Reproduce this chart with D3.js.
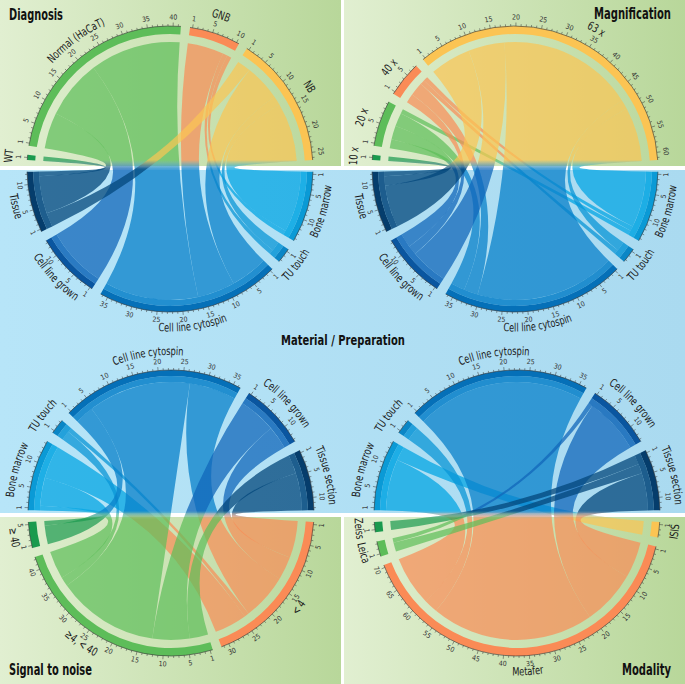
<!DOCTYPE html>
<html>
<head>
<meta charset="utf-8">
<script src="https://cdn.jsdelivr.net/npm/d3@7"></script>
<style>
html, body { margin: 0; padding: 0; background: #fff; }
svg { display: block; font-family: "DejaVu Sans Condensed", "DejaVu Sans", sans-serif; font-stretch: condensed; }
</style>
</head>
<body>
<svg id="chart" width="685" height="684"></svg>
<script>
// groups, clockwise order on each half
const materials = ["Bone marrow", "TU touch", "Cell line cytospin", "Cell line grown", "Tissue"];
const materialsLower = ["Bone marrow", "TU touch", "Cell line cytospin", "Cell line grown", "Tissue section"];
const diagnosis = ["WT", "Normal (HaCaT)", "GNB", "NB"];
const magnification = ["10 x", "20 x", "40 x", "63 x"];
const signalNoise = ["< 4", "≥4, < 40", "≥ 40"];
const modality = ["ISIS", "Metafer", "Leica", "Zeiss"];

// sample counts: rows = category, columns = materials (same order as above)
const diagnosisLinks = [
    [0, 0, 0, 0, 1],
    [0, 0, 20, 13, 8],
    [1, 1, 8, 0, 0],
    [13, 2, 8, 0, 3]
];
const magnificationLinks = [
    [0, 0, 0, 0, 1],
    [1, 0, 3, 3, 2],
    [1, 1, 3, 2, 0],
    [12, 2, 30, 8, 9]
];
const signalLinks = [
    [7, 1, 10, 5, 8],
    [6, 2, 22, 8, 4],
    [1, 0, 4, 0, 0]
];
const modalityLinks = [
    [3, 0, 0, 0, 0],
    [11, 3, 36, 12, 8],
    [0, 0, 0, 1, 2],
    [0, 0, 0, 0, 2]
];

const tickLabels = [1, 5, 10, 15, 20, 25, 30, 35, 40, 45, 50, 55, 60, 65, 70];

const catPalette = ["#1a9a4e", "#5dbd59", "#fa8b56", "#fbc453"];
const matBase = ["#04a6e3", "#0995d6", "#0880c9", "#1267b9", "#03477b"];
const matDark = ["#0a9ad6", "#0a86c6", "#0570b8", "#0a56a0", "#053d6c"];

const R = 143;
const deg = Math.PI / 180;
const pt = (a, r) => [r * Math.sin(a * deg), -r * Math.cos(a * deg)];

const svg = d3.select("#chart");
const defs = svg.append("defs");

function hGrad(id, c0, c1) {
    const g = defs.append("linearGradient").attr("id", id)
        .attr("x1", 0).attr("x2", 1).attr("y1", 0).attr("y2", 0);
    g.append("stop").attr("offset", 0).attr("stop-color", c0);
    g.append("stop").attr("offset", 1).attr("stop-color", c1);
}
hGrad("bgGreen", "#e1efd1", "#b8d79a");
hGrad("bgBlue", "#b7e5f8", "#aadaf0");

// backgrounds
svg.append("rect").attr("x", 0).attr("y", 170).attr("width", 685).attr("height", 343).attr("fill", "url(#bgBlue)");
[[0, 0, 341, 166], [344, 0, 341, 166], [0, 517, 341, 167], [344, 517, 341, 167]].forEach(r => {
    svg.append("rect").attr("x", r[0]).attr("y", r[1]).attr("width", r[2]).attr("height", r[3])
        .attr("fill", "url(#bgGreen)");
});

function transpose(m) {
    return m[0].map((_, j) => m.map(row => row[j]));
}

// squeeze a text to look like a condensed face
function condense(sel, ratio) {
    sel.each(function () {
        const w = this.getComputedTextLength();
        d3.select(this).attr("textLength", w * ratio).attr("lengthAdjust", "spacingAndGlyphs");
    });
}

const panels = [
    { cx: 170, cy: 169, fade: [-9, 0], nudge: { "Normal (HaCaT)": 2 },
      top: { names: diagnosis, colors: [0, 1, 2, 3].map(i => catPalette[i]), cat: true },
      bottom: { names: materials, cat: false },
      links: diagnosisLinks },
    { cx: 515, cy: 169, fade: [-9, 0], nudge: { "63 x": 7 },
      top: { names: magnification, colors: [0, 1, 2, 3].map(i => catPalette[i]), cat: true },
      bottom: { names: materials, cat: false },
      links: magnificationLinks },
    { cx: 171, cy: 513, fade: [-2, 6], nudge: { "≥4, < 40": 7 },
      top: { names: materialsLower, cat: false },
      bottom: { names: signalNoise, colors: [2, 1, 0].map(i => catPalette[i]), cat: true },
      links: transpose(signalLinks) },
    { cx: 517, cy: 513, fade: [-2, 6], nudge: {},
      top: { names: materialsLower, cat: false },
      bottom: { names: modality, colors: [3, 2, 1, 0].map(i => catPalette[i]), cat: true },
      links: transpose(modalityLinks) }
];

function layoutHalf(half, sizes, from, to) {
    const gap = half.cat ? 3.7 : 4;
    const e = half.cat ? 3.6 : 1.1;
    const a0 = from + e, a1 = to - e;
    const unit = (a1 - a0 - gap * (sizes.length - 1)) / d3.sum(sizes);
    let a = a0;
    return half.names.map((name, i) => {
        const g = { name, index: i, size: sizes[i], start: a, end: a + sizes[i] * unit, unit,
            color: half.cat ? half.colors[i] : matBase[i],
            dark: half.cat ? half.colors[i] : matDark[i], cat: half.cat };
        a = g.end + gap;
        return g;
    });
}

const ribbon = d3.ribbon();

panels.forEach((p, pi) => {
    const nt = p.links.length, nb = p.links[0].length;
    const topSizes = p.links.map(r => d3.sum(r));
    const botSizes = d3.range(nb).map(j => d3.sum(p.links, r => r[j]));
    const topG = layoutHalf(p.top, topSizes, -90, 90);
    const botG = layoutHalf(p.bottom, botSizes, 90, 270);
    const rTop = p.top.cat ? R - 16 : R - 12;
    const rBot = p.bottom.cat ? R - 16 : R - 12;

    // link end positions
    const ribbons = [];
    topG.forEach((g, i) => {
        let off = g.start;
        for (let j = nb - 1; j >= 0; j--) {
            const v = p.links[i][j];
            if (!v) continue;
            ribbons.push({ i, j, v, s0: off, s1: off + v * g.unit });
            off += v * g.unit;
        }
    });
    botG.forEach((g, j) => {
        let off = g.start;
        for (let i = nt - 1; i >= 0; i--) {
            const v = p.links[i][j];
            if (!v) continue;
            const rb = ribbons.find(d => d.i === i && d.j === j);
            rb.t0 = off; rb.t1 = off + v * g.unit;
            off += v * g.unit;
        }
    });
    ribbons.forEach(d => {
        d.path = ribbon({
            source: { startAngle: d.s0 * deg, endAngle: d.s1 * deg, radius: rTop },
            target: { startAngle: d.t0 * deg, endAngle: d.t1 * deg, radius: rBot }
        });
    });

    // fade masks between the two colourings
    const grad = defs.append("linearGradient").attr("id", "fade" + pi)
        .attr("gradientUnits", "userSpaceOnUse")
        .attr("x1", 0).attr("x2", 0).attr("y1", p.fade[0]).attr("y2", p.fade[1]);
    grad.append("stop").attr("offset", 0).attr("stop-color", "#fff");
    grad.append("stop").attr("offset", 1).attr("stop-color", "#000");
    const gradB = defs.append("linearGradient").attr("id", "fadeB" + pi)
        .attr("gradientUnits", "userSpaceOnUse")
        .attr("x1", 0).attr("x2", 0).attr("y1", p.fade[0]).attr("y2", p.fade[1]);
    gradB.append("stop").attr("offset", 0).attr("stop-color", "#000");
    gradB.append("stop").attr("offset", 1).attr("stop-color", "#fff");
    [["maskT" + pi, "fade" + pi], ["maskB" + pi, "fadeB" + pi]].forEach(([mid, gid]) => {
        defs.append("mask").attr("id", mid).attr("maskUnits", "userSpaceOnUse")
            .attr("x", -200).attr("y", -200).attr("width", 400).attr("height", 400)
            .append("rect").attr("x", -200).attr("y", -200).attr("width", 400).attr("height", 400)
            .attr("fill", `url(#${gid})`);
    });

    const g = svg.append("g").attr("transform", `translate(${p.cx},${p.cy})`);

    const upper = g.append("g").attr("mask", `url(#maskT${pi})`);
    upper.selectAll("path").data(ribbons).join("path")
        .attr("d", d => d.path)
        .attr("fill", d => topG[d.i].color)
        .attr("fill-opacity", p.top.cat ? 0.7 : 0.75);
    const lower = g.append("g").attr("mask", `url(#maskB${pi})`);
    lower.selectAll("path").data(ribbons).join("path")
        .attr("d", d => d.path)
        .attr("fill", d => botG[d.j].color)
        .attr("fill-opacity", p.bottom.cat ? 0.7 : 0.75);

    // tracks, axes, ticks, labels
    [[topG, true], [botG, false]].forEach(([groups, isTop]) => {
        groups.forEach(gr => {
            const a0 = gr.start * deg, a1 = gr.end * deg;
            if (gr.cat) {
                g.append("path").attr("fill", gr.color)
                    .attr("d", d3.arc()({ innerRadius: R - 8, outerRadius: R, startAngle: a0, endAngle: a1 }));
            } else {
                g.append("path").attr("fill", gr.color).attr("fill-opacity", 0.85)
                    .attr("d", d3.arc()({ innerRadius: R - 12, outerRadius: R - 6, startAngle: a0, endAngle: a1 }));
                g.append("path").attr("fill", gr.dark)
                    .attr("d", d3.arc()({ innerRadius: R - 6, outerRadius: R, startAngle: a0, endAngle: a1 }));
            }
            // axis line
            const [x0, y0] = pt(gr.start, R), [x1, y1] = pt(gr.end, R);
            g.append("path").attr("fill", "none").attr("stroke", "#333").attr("stroke-width", 0.6)
                .attr("d", `M${x0},${y0}A${R},${R} 0 ${gr.end - gr.start > 180 ? 1 : 0} 1 ${x1},${y1}`);
            // ticks
            for (let k = 1; k <= gr.size; k++) {
                const a = gr.start + (k - 0.5) * gr.unit;
                const major = tickLabels.includes(k);
                const [tx0, ty0] = pt(a, R), [tx1, ty1] = pt(a, R + (major ? 3.5 : 2));
                g.append("line").attr("x1", tx0).attr("y1", ty0).attr("x2", tx1).attr("y2", ty1)
                    .attr("stroke", "#333").attr("stroke-width", 0.5);
                if (major) {
                    const [lx, ly] = pt(a, R + 8.5);
                    g.append("text").attr("x", lx).attr("y", ly)
                        .attr("transform", `rotate(${isTop ? a : a + 180},${lx},${ly})`)
                        .attr("text-anchor", "middle").attr("dominant-baseline", "central")
                        .attr("font-size", 7).attr("fill", "#333").text(k);
                }
            }
            // group label along the arc
            const mid = (gr.start + gr.end) / 2 + (p.nudge[gr.name] || 0);
            const id = `lab${pi}${isTop ? "t" : "b"}${gr.index}`;
            const rl = isTop ? R + 15 : R + 19.5;
            const s = isTop ? mid - 70 : mid + 70, e = isTop ? mid + 70 : mid - 70;
            const [px0, py0] = pt(s, rl), [px1, py1] = pt(e, rl);
            defs.append("path").attr("id", id)
                .attr("d", `M${px0},${py0}A${rl},${rl} 0 0 ${isTop ? 1 : 0} ${px1},${py1}`);
            const tp = g.append("text").attr("font-size", 11.5).attr("fill", "#1a1a1a")
                .append("textPath").attr("href", "#" + id)
                .attr("startOffset", "50%").attr("text-anchor", "middle")
                .text(gr.name);
            condense(tp, 0.8);
        });
    });
});

// titles: text, left x, baseline y, width in the picture
const titles = [
    ["Diagnosis", 9, 20, 54],
    ["Magnification", 594, 19, 77],
    ["Signal to noise", 9, 675, 83],
    ["Modality", 622, 675, 49],
    ["Material / Preparation", 281, 345, 124]
];
svg.selectAll("text.title").data(titles).join("text")
    .attr("class", "title")
    .attr("font-size", (d, i) => i === 4 ? 14 : 15.5)
    .attr("font-weight", "bold").attr("fill", "#111")
    .text(d => d[0])
    .each(function (d) {
        const sx = d[3] / this.getComputedTextLength();
        d3.select(this).attr("transform", `translate(${d[1]},${d[2]}) scale(${sx},1)`);
    });
</script>
</body>
</html>
